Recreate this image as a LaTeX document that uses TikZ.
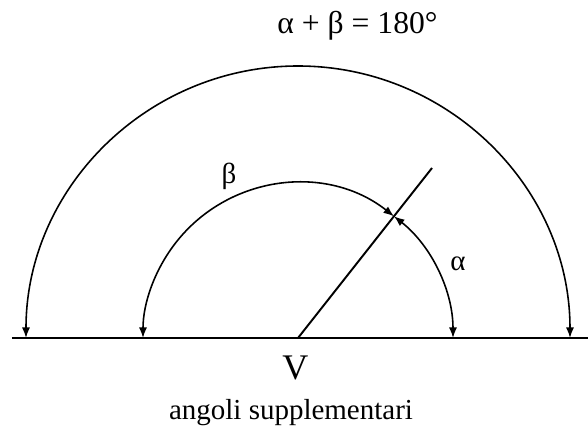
\documentclass[tikz,border=0pt]{standalone}
\usepackage{fontspec}
\setmainfont{Liberation Serif}
\usetikzlibrary{arrows.meta}

\begin{document}
\begin{tikzpicture}[x=0.02cm, y=0.02cm, thick,
		arco/.style={line width=0.9pt, {Latex[length=6pt,width=4.6pt]}-{Latex[length=6pt,width=4.6pt]}},
		testo/.style={inner sep=0pt, font=\fontsize{16.5}{20}\selectfont}]
	\useasboundingbox (-298,-91) rectangle (290,338);
	
	% Define points
	\coordinate (V) at (0,0);
	\coordinate (sx) at (-286,0);
	\coordinate (dx) at (290,0);
	\coordinate (A) at (51.75:216.5);
	\coordinate (P) at (51.75:155);
	\coordinate (Rout) at (272,0);
	\coordinate (Rin) at (155,0);
	
	% retta e semiretta
	\draw[line width=1.6pt] (sx) -- (dx);
	\draw[line width=1.1pt] (V) -- (A);
	
	% archi
	\draw[arco] (Rout) arc[start angle=0, end angle=180, radius=272];
	\draw[arco] (Rin) arc[start angle=0, end angle=51.75, radius=155];
	\draw[arco] (P) arc[start angle=51.75, end angle=180, radius=155];
	
	% scritte
	\node[testo, anchor=base, font=\fontsize{18}{22}\selectfont] (somma) at (59.5,304) {α + β = 180°};
	\node[testo] (lbeta) at (-69,162) {β};
	\node[testo] (lalfa) at (160,74) {α};
	\node[inner sep=0pt, anchor=base, font=\fontsize{20.5}{24}\selectfont] (vertice) at (-2.5,-42) {V};
	\node[testo, anchor=base] (didascalia) at (-7,-82) {angoli supplementari};
\end{tikzpicture}
\end{document}
